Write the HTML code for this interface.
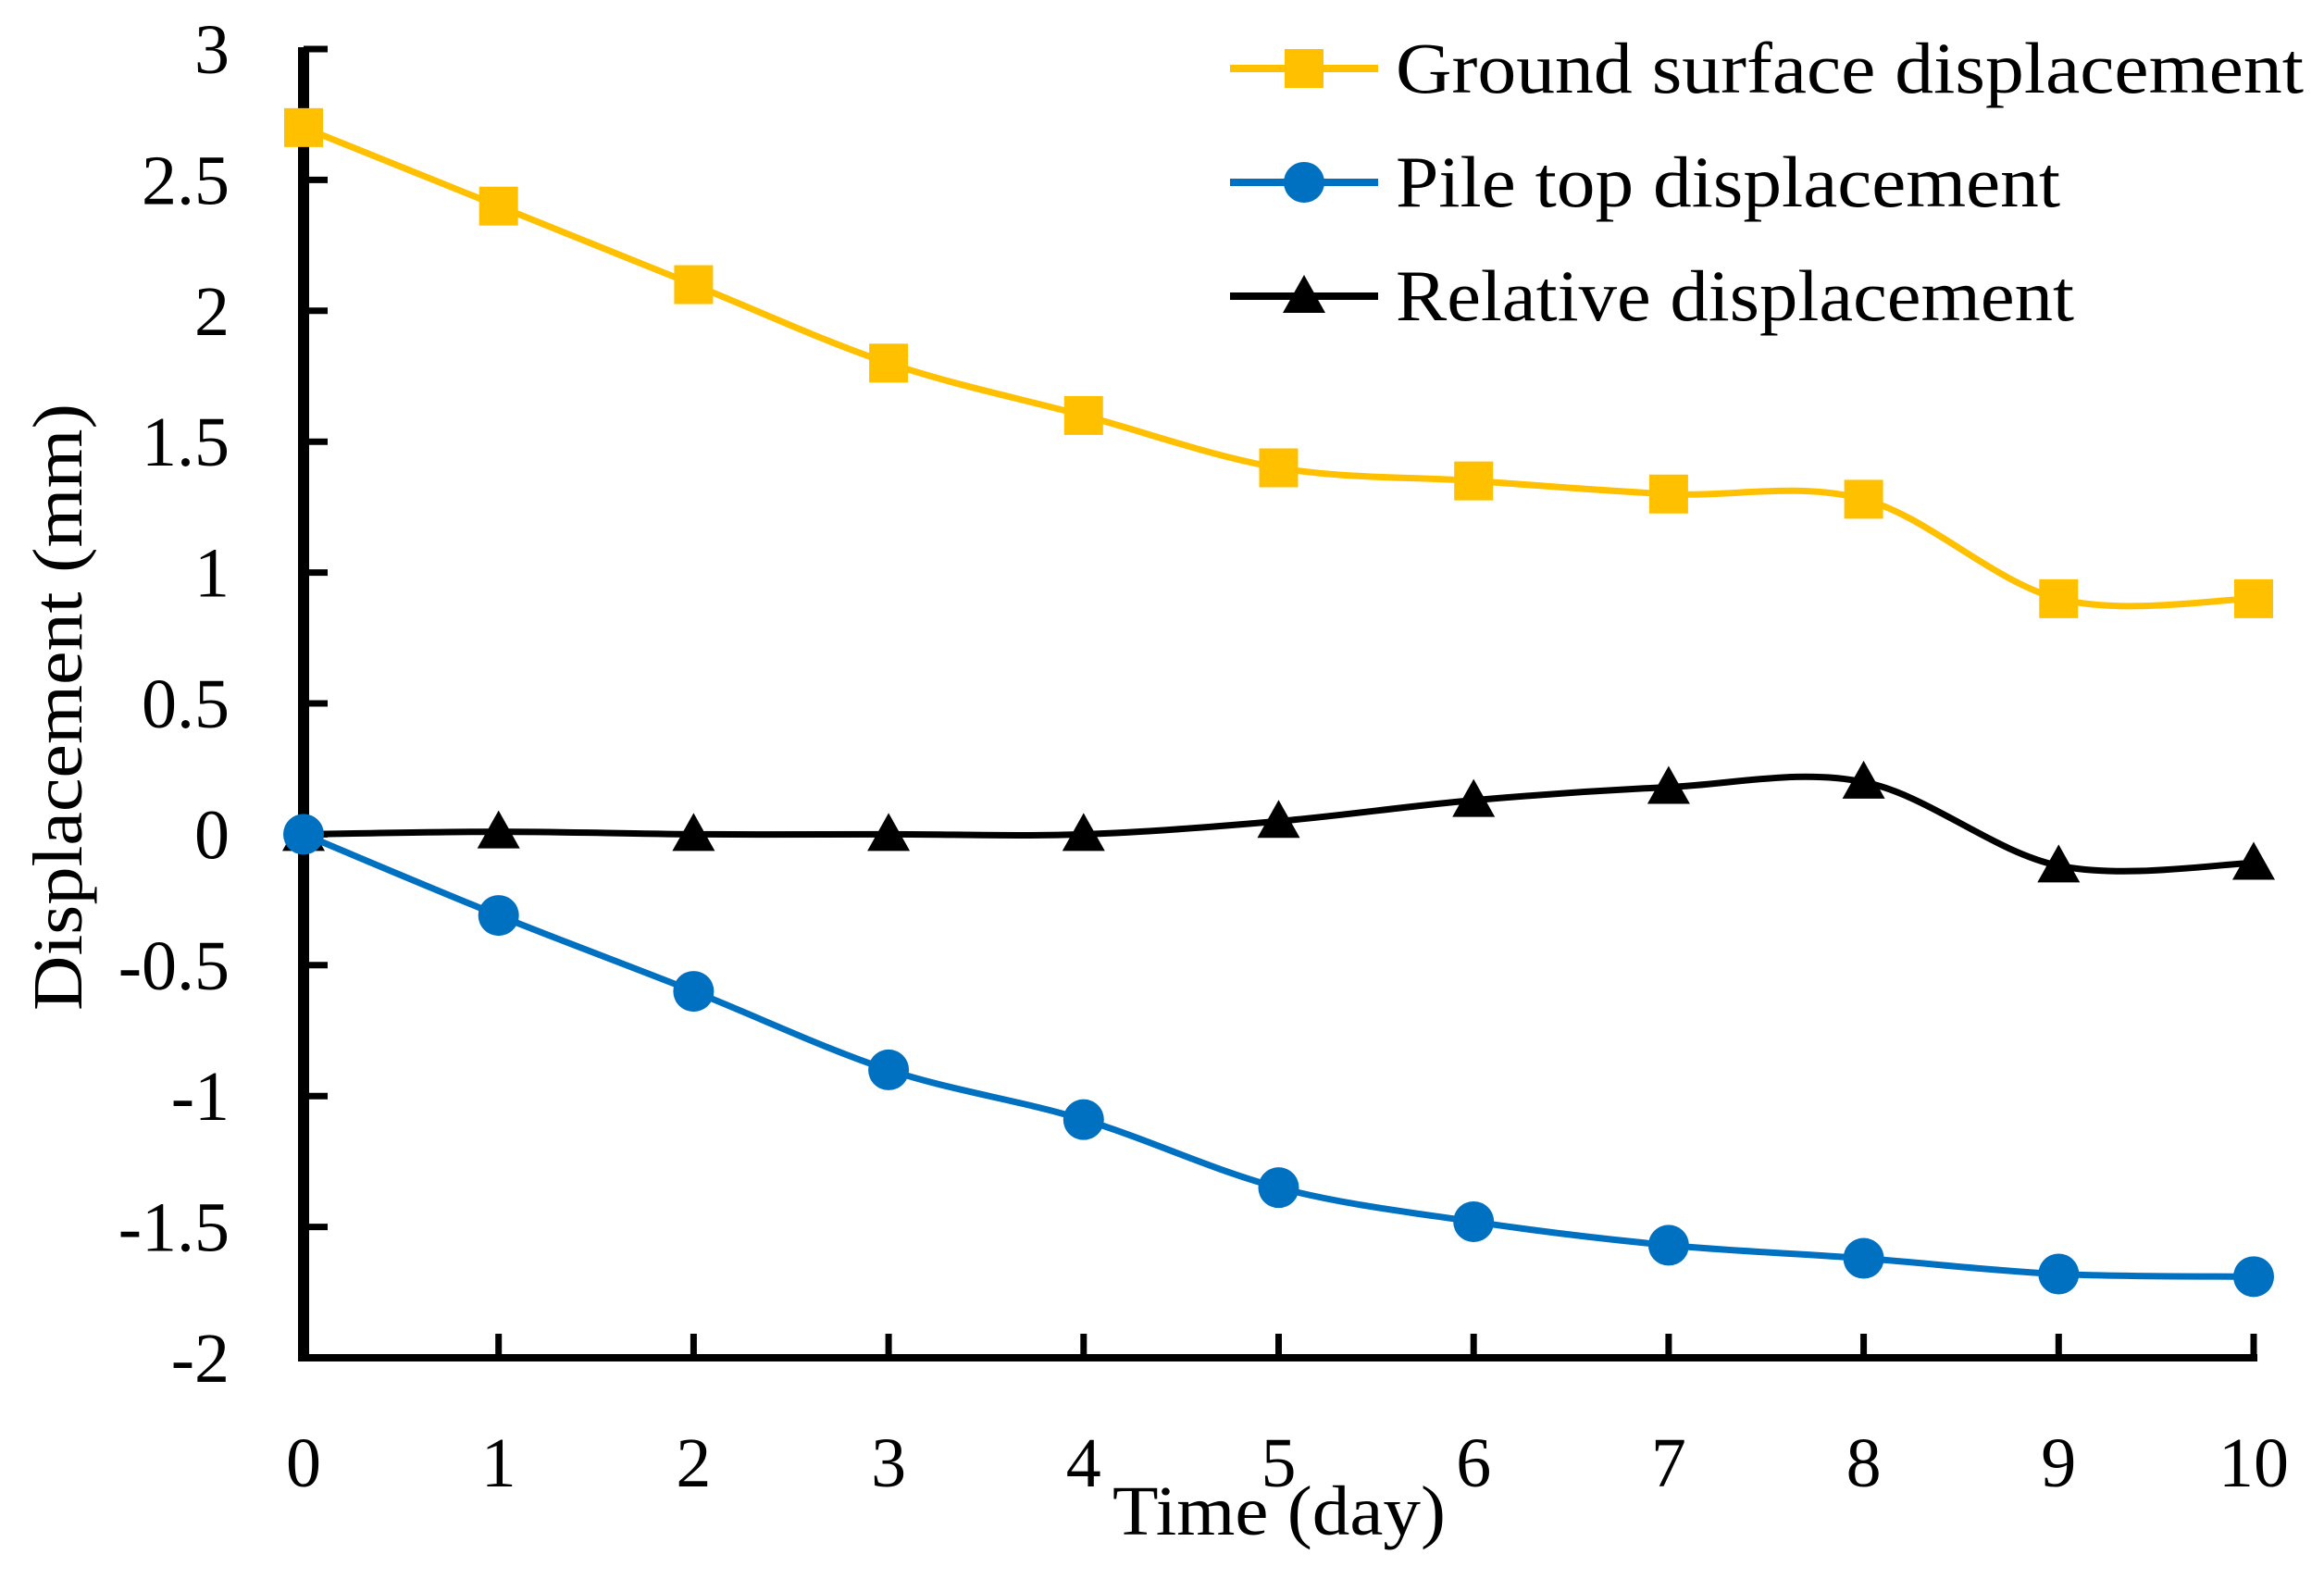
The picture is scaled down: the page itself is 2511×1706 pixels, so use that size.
<!DOCTYPE html>
<html><head><meta charset="utf-8"><style>
html,body{margin:0;padding:0;background:#fff;}
svg{display:block;font-family:"Liberation Serif",serif;}
</style></head><body>
<svg id="chart" width="2511" height="1706" viewBox="0 0 2511 1706" xmlns="http://www.w3.org/2000/svg">
<g id="axes"></g><g id="series"></g><g id="legend"></g>
<text x="1382" y="1658" font-size="76" text-anchor="middle" textLength="360" lengthAdjust="spacingAndGlyphs">Time (day)</text>
<text transform="translate(88,764) rotate(-90)" font-size="76" text-anchor="middle" textLength="656" lengthAdjust="spacingAndGlyphs">Displacement (mm)</text>
</svg>
<script>
const days=[0,1,2,3,4,5,6,7,8,9,10];
const groundValues=[2.7,2.4,2.1,1.8,1.6,1.4,1.35,1.3,1.28,0.9,0.9];
const pileValues=[0,-0.31,-0.6,-0.9,-1.09,-1.35,-1.48,-1.57,-1.62,-1.68,-1.69];
const relativeValues=[0,0.01,0,0,0,0.05,0.13,0.18,0.2,-0.12,-0.11];
const yTicks=[3,2.5,2,1.5,1,0.5,0,-0.5,-1,-1.5,-2];
const seriesNames=["Ground surface displacement","Pile top displacement","Relative displacement"];
const legendWidths=[981,718,733];

const NS="http://www.w3.org/2000/svg";
const X0=328,X1=2435,Y0=53,Y1=1467;
const xs=d=>X0+(d-0)/(10-0)*(X1-X0);
const ys=v=>Y0+(3-v)/(3-(-2))*(Y1-Y0);
function mk(tag,attrs,parent){const e=document.createElementNS(NS,tag);for(const k in attrs)e.setAttribute(k,attrs[k]);parent.appendChild(e);return e;}
const axes=document.getElementById('axes'),series=document.getElementById('series'),legend=document.getElementById('legend');

let e=mk('line',{x1:X0,y1:Y0-2,x2:X0,y2:Y1+4,stroke:'#000','stroke-width':12},axes);

e=mk('line',{x1:X0,y1:Y1,x2:X1+4,y2:Y1,stroke:'#000','stroke-width':8},axes);

yTicks.forEach(v=>{
  let t=mk('line',{x1:X0,y1:ys(v),x2:X0+26,y2:ys(v),stroke:'#000','stroke-width':7},axes);
  
  let l=mk('text',{x:248,y:ys(v)+26,'font-size':76,'text-anchor':'end'},axes);l.textContent=String(v);
  
});
days.forEach(d=>{
  let t=mk('line',{x1:xs(d),y1:Y1,x2:xs(d),y2:Y1-26,stroke:'#000','stroke-width':7},axes);
  
  let l=mk('text',{x:xs(d),y:1606,'font-size':76,'text-anchor':'middle'},axes);l.textContent=d;
  
});
function smooth(pts){let s=`M${pts[0][0]},${pts[0][1]}`;for(let i=0;i<pts.length-1;i++){const p0=pts[Math.max(0,i-1)],p1=pts[i],p2=pts[i+1],p3=pts[Math.min(pts.length-1,i+2)];const t=1/6;s+=` C${p1[0]+(p2[0]-p0[0])*t},${p1[1]+(p2[1]-p0[1])*t} ${p2[0]-(p3[0]-p1[0])*t},${p2[1]-(p3[1]-p1[1])*t} ${p2[0]},${p2[1]}`;}return s;}
function marker(type,x,y,color,parent){
  if(type==='square')return mk('rect',{x:x-21,y:y-21,width:42,height:42,fill:color},parent);
  if(type==='circle')return mk('circle',{cx:x,cy:y,r:22,fill:color},parent);
  return mk('polygon',{points:`${x},${y-23} ${x+23},${y+18} ${x-23},${y+18}`,fill:color},parent);
}
const defs=[[groundValues,'#FFC000','square','ground'],[relativeValues,'#000000','triangle','relative'],[pileValues,'#0070C0','circle','pile']];
defs.forEach(([vals,col,type,nm])=>{
  const pts=days.map((d,i)=>[xs(d),ys(vals[i])]);
  let p=mk('path',{d:smooth(pts),fill:'none',stroke:col,'stroke-width':7},series);
  
  pts.forEach(pt=>{let m=marker(type,pt[0],pt[1],col,series);
    });
});
const legDefs=[['#FFC000','square'],['#0070C0','circle'],['#000000','triangle']];
legDefs.forEach(([col,type],i)=>{
  const y=74+i*123;
  let l=mk('line',{x1:1329,y1:y,x2:1489,y2:y,stroke:col,'stroke-width':8},legend);
  
  let m=marker(type,1409,y,col,legend);
  
  let t=mk('text',{x:1508,y:y+26,'font-size':78,textLength:legendWidths[i],lengthAdjust:'spacingAndGlyphs'},legend);t.textContent=seriesNames[i];
  
});
</script>
</body></html>
